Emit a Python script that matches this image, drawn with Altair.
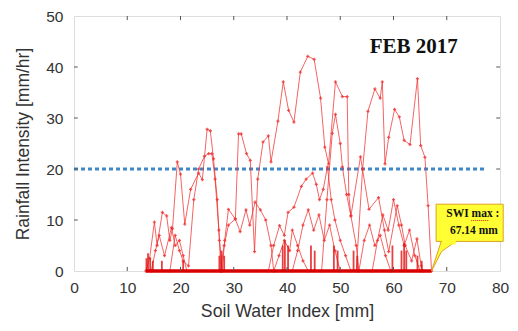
import altair as alt
import pandas as pd

# ---------------- data ----------------
# each event trace: Soil Water Index [mm] vs Rainfall Intensity [mm/hr]
t1_swi = [13.5, 14.2, 15.1, 15.6, 16.6, 17.4, 18.0, 18.5, 19.4, 20.0, 20.8, 21.9, 23.4, 24.1, 25.0, 25.6, 26.2, 26.9, 27.3, 27.6]
t1_rain = [0, 2.5, 9.6, 5.0, 11.5, 10.8, 6.0, 8.3, 21.4, 19.0, 9.2, 16.0, 19.2, 17.9, 27.8, 27.5, 22.0, 14.0, 6.0, 0]

t2_swi = [14.5, 15.3, 16.0, 17.0, 18.3, 19.0, 19.8, 20.5, 21.2]
t2_rain = [0, 4.0, 7.0, 3.0, 8.5, 5.0, 6.0, 3.0, 0]

t3_swi = [18.0, 19.0, 19.8, 20.5, 21.5, 22.5, 23.4, 24.5, 25.3, 25.9, 26.5, 27.2, 27.8]
t3_rain = [0, 7.0, 4.0, 2.0, 1.0, 14.0, 20.0, 22.5, 23.0, 23.0, 18.0, 8.0, 0]

t4_swi = [27.8, 28.3, 29.0, 30.3, 30.9, 31.4, 32.4, 33.1, 33.9, 34.5, 35.5, 36.5, 37.0, 38.3, 39.3, 40.3,
          41.3, 42.5, 43.9, 45.1, 46.3, 47.1, 47.8, 49.1, 50.4, 51.3, 51.6, 52.0, 53.0, 53.5]
t4_rain = [0, 6.0, 12.1, 10.2, 26.9, 26.9, 23.0, 21.7, 3.8, 18.0, 25.3, 26.5, 21.4, 29.4, 37.1, 31.5,
           29.2, 39.0, 42.1, 41.5, 33.9, 24.3, 21.0, 37.1, 34.2, 34.2, 15.0, 10.8, 5.0, 0]

t5_swi = [53.0, 54.2, 55.2, 56.5, 57.5, 57.9, 58.4, 59.1, 60.2, 61.1, 62.0, 63.1, 64.5, 65.1, 65.9, 66.5, 67.14]
t5_rain = [0, 20.0, 31.3, 35.7, 33.9, 37.1, 21.0, 26.2, 31.7, 30.2, 25.6, 24.8, 37.7, 24.6, 22.3, 12.8, 0]

t6_swi = [46.5, 47.5, 48.5, 49.1, 50.0, 50.4, 51.2, 52.0, 53.8, 55.4, 57.2, 58.3, 59.1, 60.7, 61.5, 62.2, 63.4, 64.4, 65.2, 65.6]
t6_rain = [0, 14.0, 27.0, 30.7, 25.0, 20.4, 15.0, 10.8, 22.4, 12.1, 14.4, 8.0, 3.8, 12.8, 9.0, 5.0, 2.0, 6.3, 1.0, 0]

t7_swi = [36.5, 37.5, 38.6, 39.5, 40.2, 41.3, 42.7, 43.6, 44.8, 45.5, 46.1, 46.8, 47.6, 48.3, 49.0, 50.0, 51.0, 52.0]
t7_rain = [0, 5.0, 8.9, 7.0, 11.5, 12.5, 16.6, 18.0, 19.2, 17.0, 14.0, 16.0, 20.4, 14.0, 10.0, 6.0, 3.0, 0]

t8_swi = [27.5, 28.2, 29.0, 30.3, 31.2, 32.3, 33.0, 34.0, 35.0, 36.0, 37.0, 37.5]
t8_rain = [0, 5.0, 9.0, 10.2, 7.7, 12.0, 9.0, 13.5, 12.0, 10.0, 5.0, 0]

t9_swi = [37.5, 38.5, 39.5, 40.5, 41.0, 42.0, 43.0, 44.0]
t9_rain = [0, 3.0, 6.0, 4.0, 8.0, 5.0, 2.0, 0]

t10_swi = [53.5, 54.5, 55.5, 56.5, 57.5, 58.5, 59.5]
t10_rain = [0, 6.0, 9.0, 5.0, 7.0, 3.0, 0]

t11_swi = [41.0, 42.0, 43.0, 44.0, 45.0, 46.0, 47.0, 48.0, 49.0, 50.0]
t11_rain = [0, 4.0, 9.0, 12.0, 8.0, 11.0, 6.0, 9.0, 4.0, 0]

t12_swi = [56.0, 57.0, 58.0, 59.0, 60.0, 61.0, 62.0, 63.0, 64.0, 65.0]
t12_rain = [0, 6.0, 11.0, 8.0, 14.0, 9.0, 5.0, 8.0, 3.0, 0]

spike_swi = [13.6, 13.9, 14.3, 14.8, 16.5, 20.5, 27.3, 27.7, 28.2, 39.2, 39.6, 40.2, 44.5, 45.2, 48.8, 49.5,
             52.5, 53.2, 59.8, 61.5, 62.0, 62.4, 64.5, 65.3]
spike_rain = [2.5, 3.5, 2.5, 2.0, 2.0, 2.0, 3.0, 4.0, 3.0, 5.0, 6.0, 5.0, 5.0, 4.0, 5.0, 4.0,
              4.0, 3.0, 5.0, 4.0, 5.5, 4.0, 3.0, 2.0]

base_start = [13.5]
base_end = [67.14]

threshold = [20]

x_ticks = [0, 10, 20, 30, 40, 50, 60, 70, 80]
y_ticks = [0, 10, 20, 30, 40, 50]
inner_x = [10, 20, 30, 40, 50, 60, 70]
inner_y = [10, 20, 30, 40]

title_text = ["FEB 2017"]
callout_lines = ["SWI max :", "67.14 mm"]

# ---------------- tables ----------------
traces = {
    "t1": (t1_swi, t1_rain), "t2": (t2_swi, t2_rain), "t3": (t3_swi, t3_rain),
    "t4": (t4_swi, t4_rain), "t5": (t5_swi, t5_rain), "t6": (t6_swi, t6_rain),
    "t7": (t7_swi, t7_rain), "t8": (t8_swi, t8_rain), "t9": (t9_swi, t9_rain),
    "t10": (t10_swi, t10_rain), "t11": (t11_swi, t11_rain), "t12": (t12_swi, t12_rain),
}
rows = []
for name, (xs, ys) in traces.items():
    for i, (a, b) in enumerate(zip(xs, ys)):
        rows.append({"trace": name, "i": i, "swi": a, "rain": b})
df = pd.DataFrame(rows)

xscale = alt.Scale(domain=[0, 80], nice=False, zero=False)
yscale = alt.Scale(domain=[0, 50], nice=False)

RED = "#f03030"

xenc = alt.X("swi:Q", scale=xscale,
             axis=alt.Axis(values=x_ticks, title="Soil Water Index [mm]", ticks=False, domain=False,
                           grid=False, labelFontSize=15.5, titleFontSize=17.7, labelPadding=9,
                           titlePadding=7, labelColor="#333", titleColor="#333", labelFlush=False,
                           labelFont="Liberation Sans", titleFont="Liberation Sans", titleFontWeight="normal"))
yenc = alt.Y("rain:Q", scale=yscale,
             axis=alt.Axis(values=y_ticks, title="Rainfall Intensity [mm/hr]", ticks=False, domain=False,
                           grid=False, labelFontSize=15.5, titleFontSize=17.5, labelPadding=11,
                           titlePadding=13, labelColor="#333", titleColor="#333", labelFlush=False,
                           labelFont="Liberation Sans", titleFont="Liberation Sans", titleFontWeight="normal"))

lines = alt.Chart(df).mark_line(color=RED, strokeWidth=1, opacity=0.75).encode(
    x=xenc, y=yenc, detail="trace:N", order="i:Q")
pts = alt.Chart(df).mark_point(shape="cross", filled=True, color=RED, size=10, opacity=0.8).encode(
    x="swi:Q", y="rain:Q")

spikes = alt.Chart(pd.DataFrame({"swi": spike_swi, "rain": spike_rain, "z": [0] * len(spike_swi)})).mark_rule(
    color="#e01010", strokeWidth=1.8, opacity=0.8).encode(x="swi:Q", y="z:Q", y2="rain:Q")

base = alt.Chart(pd.DataFrame({"a": base_start, "b": base_end, "y": [0]})).mark_rule(
    color="#d80000", strokeWidth=3.5).encode(x="a:Q", x2="b:Q", y="y:Q")

thr = alt.Chart(pd.DataFrame({"a": [0], "b": [77], "y": threshold})).mark_rule(
    color="#3f88c8", strokeWidth=3, strokeDash=[4, 3]).encode(x="a:Q", x2="b:Q", y="y:Q")

# inner ticks
tk_top = alt.Chart(pd.DataFrame({"x": inner_x})).mark_rule(color="#555").encode(
    x="x:Q", y=alt.datum(50), y2=alt.datum(49.2))
tk_bot = alt.Chart(pd.DataFrame({"x": inner_x})).mark_rule(color="#555").encode(
    x="x:Q", y=alt.datum(0), y2=alt.datum(0.8))
tk_left = alt.Chart(pd.DataFrame({"y": inner_y})).mark_rule(color="#555").encode(
    y="y:Q", x=alt.datum(0), x2=alt.datum(0.7))
tk_right = alt.Chart(pd.DataFrame({"y": inner_y})).mark_rule(color="#555").encode(
    y="y:Q", x=alt.datum(80), x2=alt.datum(79.3))

title = alt.Chart(pd.DataFrame({"t": title_text, "x": [63.8], "y": [44.0]})).mark_text(
    font="Liberation Serif", fontWeight="bold", fontSize=21, color="#111").encode(
    x="x:Q", y="y:Q", text="t:N")

# callout
box = alt.Chart(pd.DataFrame({"x": [68.0], "x2": [80.6], "y": [13.1], "y2": [5.8]})).mark_rect(
    fill="#ffff33", stroke="#e0a020", strokeWidth=1).encode(x="x:Q", x2="x2:Q", y="y:Q", y2="y2:Q")
pointer = alt.Chart(pd.DataFrame({"x": [67.14, 69.0, 71.8], "y": [0, 5.9, 5.9], "y2": [0, 3.8, 5.9]})).mark_area(
    color="#ffff33", stroke="#e0a020", strokeWidth=1).encode(x="x:Q", y="y:Q", y2="y2:Q")
cover = alt.Chart(pd.DataFrame({"x": [69.1], "x2": [71.7], "y": [6.3], "y2": [5.2]})).mark_rect(
    fill="#ffff33").encode(x="x:Q", x2="x2:Q", y="y:Q", y2="y2:Q")
ctext = alt.Chart(pd.DataFrame({"t": callout_lines, "x": [74.9, 75.1], "y": [11.1, 7.8]})).mark_text(
    font="Liberation Serif", fontWeight="bold", fontSize=11.5, color="#111").encode(
    x="x:Q", y="y:Q", text="t:N")
squiggle = alt.Chart(pd.DataFrame({"a": [74.6], "b": [77.9], "y": [9.9]})).mark_rule(
    color="#d02020", strokeWidth=1, strokeDash=[1, 1]).encode(x="a:Q", x2="b:Q", y="y:Q")

chart = alt.layer(
    thr, lines, pts, spikes, base, tk_top, tk_bot, tk_left, tk_right, title,
    pointer, box, cover, ctext, squiggle
).properties(
    width=426, height=255,
    autosize=alt.AutoSizeParams(type="none"),
    padding={"left": 66, "top": 8, "right": 9, "bottom": 52},
).configure_view(stroke="#666", strokeWidth=1.2).configure(background="white")

chart.save("out.html", embed_options={"renderer": "svg", "actions": False})
